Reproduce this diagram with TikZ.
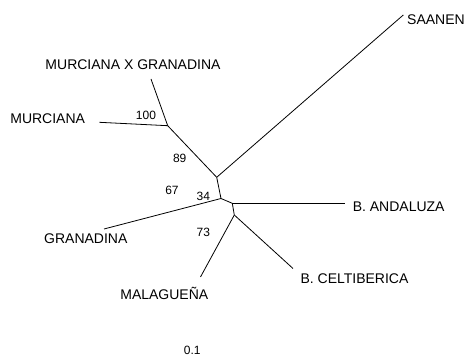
\documentclass[tikz,border=0pt]{standalone}
\usepackage{fontspec}
\setmainfont{Liberation Sans}
\tikzset{
	taxon/.style={inner sep=0pt,font=\fontsize{14}{16}\selectfont},
	boot/.style={inner sep=0pt,font=\fontsize{12}{14}\selectfont},
	branch/.style={line width=0.8pt}
}

\begin{document}
\begin{tikzpicture}[x=1pt,y=-1pt]
	\useasboundingbox (0,0) rectangle (467,358);
	% inner nodes
	\coordinate (1) at (167.7,125.7);
	\coordinate (2) at (216.7,177.3);
	\coordinate (3) at (221,198.5);
	\coordinate (4) at (232.3,203.3);
	\coordinate (5) at (234.3,215);
	% tips
	\coordinate (mg) at (151,79);
	\coordinate (mu) at (99.3,122.3);
	\coordinate (sa) at (403.3,15);
	\coordinate (gr) at (104,229);
	\coordinate (an) at (345,203.3);
	\coordinate (ma) at (200.5,277);
	\coordinate (ce) at (293,268.5);
	%
	\node[taxon,anchor=west] (Lsa) at (407,20) {SAANEN};
	\node[taxon] (Lmg) at (133,65) {MURCIANA X GRANADINA};
	\node[taxon] (Lmu) at (47.7,119) {MURCIANA};
	\node[taxon] (Lgr) at (85.8,238.3) {GRANADINA};
	\node[taxon] (Lan) at (398.7,206.7) {B. ANDALUZA};
	\node[taxon] (Lma) at (164.3,293.3) {MALAGUEÑA};
	\node[taxon] (Lce) at (354.5,278.3) {B. CELTIBERICA};
	%
	\node[boot] (b100) at (146,115) {100};
	\node[boot] (b89) at (179.7,158.3) {89};
	\node[boot] (b67) at (172,190.7) {67};
	\node[boot] (b34) at (203.3,196) {34};
	\node[boot] (b73) at (203.3,232.3) {73};
	\node[boot] (scale) at (192.3,350.7) {0.1};
	%
	\draw [branch] (1) -- (mg);
	\draw [branch] (1) -- (mu);
	\draw [branch] (1) -- (2);
	\draw [branch] (2) -- (sa);
	\draw [branch] (2) -- (3);
	\draw [branch] (3) -- (gr);
	\draw [branch] (3) -- (4);
	\draw [branch] (4) -- (an);
	\draw [branch] (4) -- (5);
	\draw [branch] (5) -- (ma);
	\draw [branch] (5) -- (ce);
\end{tikzpicture}
\end{document}
